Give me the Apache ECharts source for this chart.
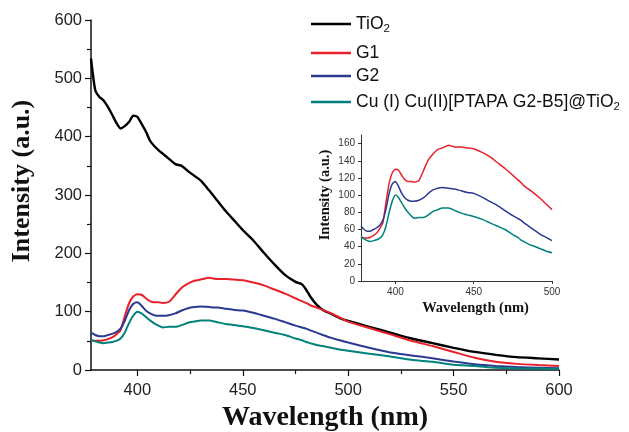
<!DOCTYPE html>
<html>
<head>
<meta charset="utf-8">
<script src="https://cdn.jsdelivr.net/npm/echarts@6/dist/echarts.min.js"></script>
<style>html,body{margin:0;padding:0;background:#fff}#c{width:629px;height:432px}</style>
</head>
<body>
<div id="c"></div>
<script>
const wavelengths = [378,380,382,384,386,388,390,392,394,396,398,400,402,404,406,408,410,412,415,418,421,424,427,430,434,438,442,446,450,455,460,465,470,475,478,480,482,485,488,492,496,500,510,520,530,540,550,560,570,580,590,600];
const tio2 = [534,480,468,462,451,438,424,414,418,425,436,434,422,409,393,384,377,371,362,353,350,341,333,325,308,290,272,256,240,222,201,181,163,151,147,138,126,112,103,96,89,84,74,64,54,46,38,31,26,22,20,18];
const g1 = [51,50,50,51,53,56,61,68,92,114,126,130,129,123,118,116,116,115,117,129,141,148,153,155,158,156,156,155,154,150,145,138,131,123,118,115,111,107,103,97,90,83,72,61,50,41,31,21,14,10.5,8.5,7];
const g2 = [64,60,58,58,60,62,65,71,84,102,113,116,110,102,97,94,93,93,94,97,102,106,108,109,108,107,105,103,102,98,93,88,82,76,73,71,68,64,60,55,51,47,38,30,25,20,14.5,10,7,5,4,3];
const cuComposite = [52,49,47,46,47,48,50,54,64,80,93,100,97,91,85,80,76,73,74,74,77,81,83,85,85,82,79,77,75,72,68,64,60,54,51,48,46,43,41,38,35,33,28,23,17.5,14,9,7,4,3,2.5,2];
const seriesNames = ['TiO2','G1','G2','Cu (I) Cu(II)[PTAPA G2-B5]@TiO2'];
const seriesColors = ['#000000','#e8202a','#2b3990','#00827c'];
const mainXTicks = [400,450,500,550,600];
const mainXMinorTicks = [425,475,525,575];
const insetXTicks = [400,450,500];
const insetYTicks = [0,20,40,60,80,100,120,140,160];

const zip = arr => wavelengths.map((w,i)=>[w,arr[i]]);
const allData = [tio2,g1,g2,cuComposite];
const insetData = arr => wavelengths.filter(w=>w<=500).map((w,i)=>[w,arr[i]]);

const serif = '"Liberation Serif", "DejaVu Serif", serif';
const sans = '"Liberation Sans", Arial, sans-serif';

const chart = echarts.init(document.getElementById('c'), null, {renderer:'canvas'});

const legendFmt = name => {
  if (name === 'TiO2') return '{n|TiO}{s|2}';
  if (name.endsWith('TiO2')) return '{n|' + name.slice(0,-1) + '}{s|2}';
  return '{n|' + name + '}';
};
const legendTops = [8, 37, 60, 86];
const legends = seriesNames.map((n,i)=>({
  data:[n], left:306, top:legendTops[i], orient:'vertical',
  icon:'rect', itemWidth:40, itemHeight:2.5, itemGap:0,
  selectedMode:false,
  formatter: legendFmt,
  textStyle:{
    color:'#111', fontFamily:sans, fontSize:17.5, lineHeight:22,
    rich:{
      n:{fontSize:17.5, fontFamily:sans, color:'#111', lineHeight:22},
      s:{fontSize:11.5, fontFamily:sans, color:'#111', lineHeight:22, verticalAlign:'bottom', padding:[9,0,0,0]}
    }
  }
}));

const option = {
  animation:false,
  backgroundColor:'#fff',
  legend: legends,
  grid:[
    {left:91, right:70, top:20, bottom:62, outerBoundsMode:'none', containLabel:false},
    {left:361, right:77, top:135, bottom:151, outerBoundsMode:'none', containLabel:false}
  ],
  xAxis:[
    {type:'value', gridIndex:0, min:378, max:600,
      name:'Wavelength (nm)', nameLocation:'middle', nameGap:34,
      nameTextStyle:{fontFamily:serif, fontWeight:'bold', fontSize:28, color:'#111'},
      axisLine:{show:true, lineStyle:{color:'#111', width:1.5}},
      axisTick:{show:true, inside:false, length:6, customValues:mainXTicks, lineStyle:{color:'#111', width:1.2}},
      axisLabel:{customValues:mainXTicks, margin:12, fontFamily:sans, fontSize:16.5, color:'#222'},
      splitLine:{show:false}},
    {type:'value', gridIndex:0, min:378, max:600, position:'bottom',
      axisLine:{show:false},
      axisTick:{show:true, length:4, customValues:mainXMinorTicks, lineStyle:{color:'#111', width:1.2}},
      axisLabel:{show:false}, splitLine:{show:false}},
    {type:'value', gridIndex:1, min:378, max:500,
      name:'Wavelength (nm)', nameLocation:'middle', nameGap:20,
      nameTextStyle:{fontFamily:serif, fontWeight:'bold', fontSize:14.5, color:'#111', padding:[0,0,0,38]},
      axisLine:{show:true, lineStyle:{color:'#333', width:1}},
      axisTick:{show:true, length:3, customValues:insetXTicks, lineStyle:{color:'#333'}},
      axisLabel:{customValues:insetXTicks, margin:6, fontFamily:sans, fontSize:10, color:'#333'},
      splitLine:{show:false}}
  ],
  yAxis:[
    {type:'value', gridIndex:0, min:0, max:600, interval:100,
      name:'Intensity (a.u.)', nameLocation:'middle', nameGap:56,
      nameTextStyle:{fontFamily:serif, fontWeight:'bold', fontSize:26, color:'#111', padding:[0,0,0,28]},
      axisLine:{show:true, lineStyle:{color:'#111', width:1.5}},
      axisTick:{show:true, length:6, lineStyle:{color:'#111', width:1.2}},
      minorTick:{show:true, splitNumber:2, length:4, lineStyle:{color:'#111', width:1.2}},
      axisLabel:{margin:9, fontFamily:sans, fontSize:16.5, color:'#222'},
      splitLine:{show:false}, minorSplitLine:{show:false}},
    {type:'value', gridIndex:1, min:0, max:170,
      name:'Intensity (a.u.)', nameLocation:'middle', nameGap:28,
      nameTextStyle:{fontFamily:serif, fontWeight:'bold', fontSize:14.5, color:'#111', padding:[0,0,0,26]},
      axisLine:{show:true, lineStyle:{color:'#333', width:1}},
      axisTick:{show:true, length:3, customValues:insetYTicks, lineStyle:{color:'#333'}},
      axisLabel:{customValues:insetYTicks, margin:6, fontFamily:sans, fontSize:10, color:'#333'},
      splitLine:{show:false}}
  ],
  series:[
    ...allData.map((arr,i)=>({
      name:seriesNames[i], type:'line', xAxisIndex:0, yAxisIndex:0,
      data:zip(arr), showSymbol:false, symbol:'none', smooth:0.2,
      lineStyle:{color:seriesColors[i], width: i===0?2.4:2}, itemStyle:{color:seriesColors[i]}
    })),
    ...[1,2,3].map(i=>({
      name:seriesNames[i], type:'line', xAxisIndex:2, yAxisIndex:1,
      data:insetData(allData[i]), showSymbol:false, symbol:'none', smooth:0.2,
      lineStyle:{color:seriesColors[i], width:1.5}, itemStyle:{color:seriesColors[i]}
    }))
  ]
};
chart.setOption(option);
</script>
</body>
</html>
